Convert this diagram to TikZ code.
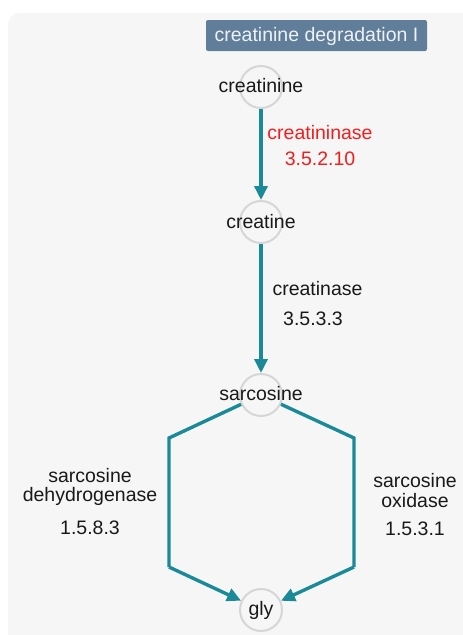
\documentclass[tikz,border=0pt]{standalone}
\usepackage{fontspec}
\setmainfont{Liberation Sans}
\usetikzlibrary{arrows.meta}
\definecolor{bgpanel}{HTML}{F6F6F6}
\definecolor{edgeteal}{HTML}{1B8A98}
\definecolor{titlefill}{HTML}{607E99}
\definecolor{titletext}{HTML}{EEF2F6}
\definecolor{ringgray}{HTML}{D6D6D6}
\definecolor{enzred}{HTML}{F01E1E}
\tikzset{
  txt/.style={font=\fontsize{19.5}{22}\selectfont, inner sep=0pt, anchor=base, text=black!90},
  ring/.style={circle, draw=ringgray, line width=2pt, fill=bgpanel, minimum size=42pt, inner sep=0pt},
  flow/.style={draw=edgeteal, line width=3.4pt, -{Triangle[length=14pt,width=13pt]}},
  flowplain/.style={draw=edgeteal, line width=3.4pt, line join=miter},
}
\begin{document}
\begin{tikzpicture}[x=1pt,y=-1pt]
\useasboundingbox (0,0) rectangle (463,635);
\fill[white] (0,0) rectangle (463,635);
\fill[bgpanel, rounded corners=12pt] (8,13) rectangle (480,660);
% title
\node[fill=titlefill, rounded corners=2pt, minimum width=221pt, minimum height=31pt, inner sep=0pt] (title) at (316.5,35.5) {};
\node[txt, text=titletext] (titletxt) at (316.5,41) {creatinine degradation I};
% compound rings
\node[ring] (c1) at (261,87) {};
\node[ring] (c2) at (261,222) {};
\node[ring] (c3) at (261,395) {};
\node[ring] (c4) at (261,610) {};
\coordinate (L1) at (169,438);
\coordinate (L2) at (169,567);
\coordinate (R1) at (354,438);
\coordinate (R2) at (354,567);
% edges
\draw[flow] (c1) -- (c2);
\draw[flow] (c2) -- (c3);
\draw[flowplain] (c3) -- (L1) -- (L2);
\draw[flow] (L2) -- (c4);
\draw[flowplain] (c3) -- (R1) -- (R2);
\draw[flow] (R2) -- (c4);
% compound names
\node[txt] (t1) at (261,92) {creatinine};
\node[txt] (t2) at (261,228) {creatine};
\node[txt] (t3) at (261,400) {sarcosine};
\node[txt] (t4) at (261,615) {gly};
% enzyme labels
\node[txt, text=enzred] (e1a) at (320,139) {creatininase};
\node[txt, text=enzred] (e1b) at (320,165) {3.5.2.10};
\node[txt] (e2a) at (317.5,295) {creatinase};
\node[txt] (e2b) at (313,325) {3.5.3.3};
\node[txt] (e3a) at (90,482) {sarcosine};
\node[txt] (e3b) at (90,501) {dehydrogenase};
\node[txt] (e3c) at (90,534) {1.5.8.3};
\node[txt] (e4a) at (415,487) {sarcosine};
\node[txt] (e4b) at (415,507) {oxidase};
\node[txt] (e4c) at (415,535) {1.5.3.1};
\end{tikzpicture}
\end{document}
